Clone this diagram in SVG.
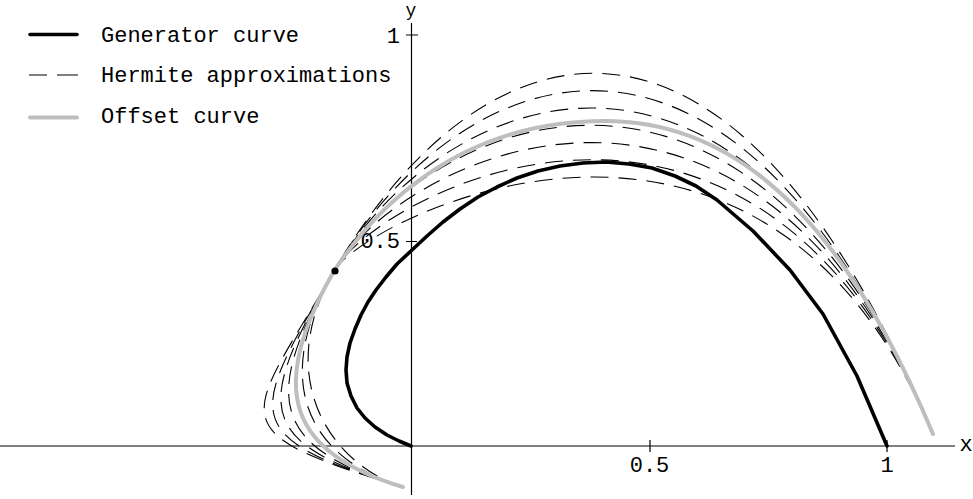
<svg xmlns="http://www.w3.org/2000/svg" width="973" height="499" viewBox="0 0 973 499">
<style>
text{font-family:"Liberation Mono","Courier New",monospace;font-size:22px;fill:#000}
.ax{stroke:#000;stroke-width:1.2;fill:none}
.gen{stroke:#000;stroke-width:3.6;fill:none;stroke-linejoin:round;stroke-linecap:round}
.off{stroke:#bebebe;stroke-width:4;fill:none;stroke-linecap:round}
.her{stroke:#000;stroke-width:1.1;fill:none;stroke-dasharray:18 10}
.up{stroke-dashoffset:9}
</style>
<rect width="973" height="499" fill="#fff"/>
<g id="axes">
<path class="ax" d="M0,446 H955 M411.5,23 V495 M650,440 V452 M887,440 V452 M406,241.5 H417 M406,35 H418"/>
<text x="966" y="451" text-anchor="middle">x</text>
<text x="411" y="16" text-anchor="middle" style="font-size:18px">y</text>
<text x="649.5" y="472" text-anchor="middle">0.5</text>
<text x="887" y="472" text-anchor="middle">1</text>
<text x="400" y="248" text-anchor="end">0.5</text>
<text x="400" y="43" text-anchor="end">1</text>
</g>
<g id="hermite-approximations">
<path class="her" d="M403,487 C333.1,466 271.5,379.3 334,271"/>
<path class="her" d="M403,487 C312.9,460 267.5,386.2 334,271"/>
<path class="her" d="M403,487 C292.8,454 263.5,393.1 334,271"/>
<path class="her" d="M403,487 C272.7,448 259.5,400 334,271"/>
<path class="her" d="M403,487 C252.6,441.9 255.5,407 334,271"/>
<path class="her" d="M403,487 C232.5,435.9 251.5,413.9 334,271"/>
<path class="her" d="M403,487 C212.4,429.9 247.5,420.8 334,271"/>
<path class="her up" d="M933,434 C758.7,18.8 364,219 334,271"/>
<path class="her up" d="M933,434 C751.3,1.2 380.7,190.2 334,271"/>
<path class="her up" d="M933,434 C744.1,-16 397.4,161.3 334,271"/>
<path class="her up" d="M933,434 C736.9,-33.3 414,132.4 334,271"/>
<path class="her up" d="M933,434 C729.6,-50.6 430.7,103.6 334,271"/>
<path class="her up" d="M933,434 C722.4,-67.8 447.4,74.7 334,271"/>
<path class="her up" d="M933,434 C715.1,-85.1 464,45.8 334,271"/>
</g>
<g id="offset-curve">
<path class="off" d="M403,487 C292.6,453.9 263.6,392.9 334,271 C372.5,212.5 455,121 605,121 C755,121 855.6,249.6 933,434"/>
</g>
<g id="generator-curve">
<path class="gen" d="M411,446 L399,441 387,435 375,427 365,418 357,408 351,396 347,383 346,370 347,357 350,343 355,329 361,315 368,302 376,290 386,277 397,264 412,250 427,236 443,222 460,209 478,197 497,187 517,178 538,171 560,166 583,163 606,162 629,164 652,168 675,176 696,186 717,200 753,231 790,270 823,314 857,376 887,446"/>
</g>
<g id="junction-point">
<circle cx="335" cy="271" r="3.6" fill="#000"/>
</g>
<g id="legend">
<path class="gen" d="M30,34.5 H77"/>
<path stroke="#000" stroke-width="1.1" d="M29,75 H47 M57,75 H78"/>
<path class="off" d="M30,117.5 H77"/>
<text x="101" y="42">Generator curve</text>
<text x="101" y="82">Hermite approximations</text>
<text x="101" y="123">Offset curve</text>
</g>
</svg>
